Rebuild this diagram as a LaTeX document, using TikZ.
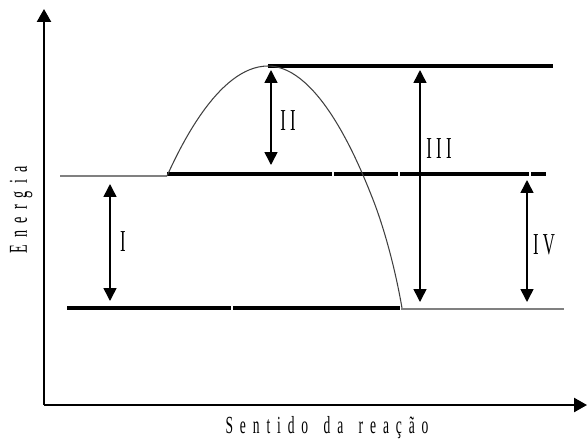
\documentclass[tikz,border=0pt]{standalone}
\usepackage{fontspec}
\setmainfont{Liberation Serif}
\newfontfamily\slimfont[FakeStretch=0.55,LetterSpace=28,WordSpace=1.5]{Liberation Serif}
\newfontfamily\numfont[FakeStretch=0.55,LetterSpace=14]{Liberation Serif}
\usetikzlibrary{arrows.meta}

\begin{document}
\begin{tikzpicture}[x=0.03cm,y=-0.03cm,>={Triangle[width=11pt,length=11pt]},
  level/.style={line width=2.6pt},
  flat/.style={black!50,line width=0.9pt},
  gap/.style={<->,line width=1.3pt},
  num/.style={font=\numfont\fontsize{26}{26}\selectfont}]
\useasboundingbox (0,0) rectangle (587,439);
% eixos
\coordinate (o) at (44,405);
\coordinate (ytop) at (44,9);
\coordinate (xend) at (587,405);
\draw[line width=1.6pt,->,>={Triangle[width=12pt,length=11pt]}] (o)--(ytop);
\draw[line width=1.6pt,->,>={Triangle[width=12pt,length=11pt]}] (o)--(xend);
\node[rotate=90,font=\slimfont\fontsize{22}{22}\selectfont] (en) at (21,210) {Energia};
\node[font=\slimfont\fontsize{21}{21}\selectfont] (sr) at (327,428) {Sentido da reação};
% niveis
\draw[flat] (60,176)--(167,176);
\draw[level] (167,174)--(332,174) (334,174)--(398,174) (400,174)--(529,174) (531,174)--(546,174);
\draw[level] (268,66)--(553,66);
\draw[level] (67,308)--(231,308) (233,308)--(400,308);
\draw[flat] (401,309)--(564,309);
% curva
\draw[black!75,line width=0.9pt] (167,176) parabola bend (268,66) (372,197)
  .. controls (382,222) and (394,262) .. (402,308);
% setas
\draw[gap] (110,184)--(110,301);
\draw[gap] (271,70)--(271,165);
\draw[gap] (420,70)--(420,302);
\draw[gap] (527,180)--(527,302);
\node[num] (n1) at (123,242) {I};
\node[num] (n2) at (288,121) {II};
\node[num] (n3) at (439,149) {III};
\node[num] (n4) at (544,245) {IV};
\end{tikzpicture}
\end{document}
